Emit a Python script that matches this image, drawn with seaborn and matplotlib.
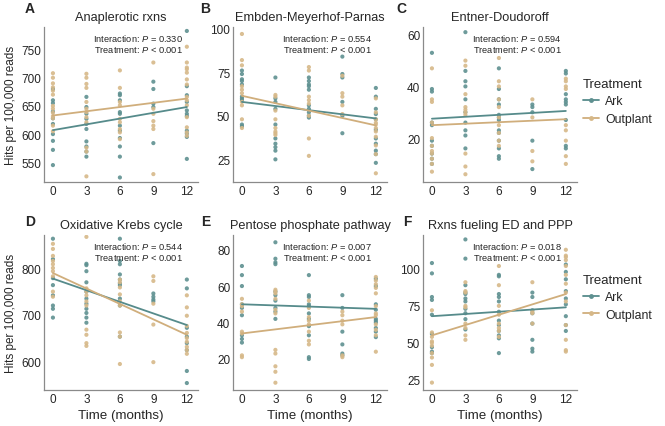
import seaborn as sns
import matplotlib.pyplot as plt
import pandas as pd
from matplotlib.lines import Line2D

# ---- data (hits per 100,000 reads by month) ----
months = [0, 3, 6, 9, 12]

ana_ark = {0: [680, 660, 655, 640, 628, 618, 600, 588, 572, 545],
           3: [666, 648, 636, 627, 618, 609, 587, 578, 569, 560],
           6: [672, 669, 660, 639, 636, 615, 606, 593, 578, 560, 523],
           9: [693, 680, 654, 648, 584],
           12: [783, 685, 669, 657, 642, 636, 632, 606, 601, 595, 556]}
ana_out = {0: [708, 700, 690, 683, 677, 670, 650, 645, 638, 632, 628, 615, 605],
           3: [707, 700, 689, 682, 657, 645, 639, 630, 621, 576, 569, 525],
           6: [713, 682, 657, 651, 627, 621, 609, 603, 591],
           9: [727, 645, 636, 623, 615, 609, 529],
           12: [755, 727, 718, 715, 709, 697, 688, 666, 660, 651, 630, 612, 603, 597]}

emp_ark = {0: [76, 74, 71, 70, 68, 61, 60, 59, 45, 44],
           3: [72, 60, 58, 54, 45, 37, 34, 32, 30, 25],
           6: [72, 70, 68, 67, 65, 56, 54, 52, 50, 49],
           9: [84, 74, 72, 58, 50, 40],
           12: [66, 61, 54, 51, 48, 42, 37, 34, 30, 28, 23]}
emp_out = {0: [97, 82, 79, 67, 65, 63, 58, 56, 48, 43],
           3: [62, 61, 53, 48, 43, 41, 40, 39],
           6: [78, 76, 61, 59, 57, 50, 37, 27],
           9: [73, 63, 61, 56, 51],
           12: [60, 52, 48, 46, 45, 43, 41, 38, 33, 28, 17]}

ent_ark = {0: [53, 39, 38, 26, 25, 19, 17, 14, 12, 10],
           3: [61, 46, 42, 40, 35, 30, 26, 23, 21, 16],
           6: [47, 39, 35, 33, 29, 28, 27, 23, 22, 19, 16, 13, 12],
           9: [33, 32, 30, 19, 8],
           12: [46, 45, 37, 35, 34, 33, 27, 17, 16]}
ent_out = {0: [47, 35, 34, 26, 20, 17, 15, 14, 12, 10, 7],
           3: [50, 48, 37, 32, 31, 30, 29, 14, 9, 6],
           6: [51, 42, 40, 35, 32, 28, 25, 22, 19, 17],
           9: [35, 28, 15, 11],
           12: [43, 42, 40, 39, 25, 23, 19, 13, 10]}

kre_ark = {0: [864, 820, 779, 764, 742, 720, 713, 694],
           3: [810, 807, 794, 770, 750, 735, 724, 713, 704, 694, 683],
           6: [864, 816, 809, 787, 776, 768, 764, 735, 720, 653],
           9: [746, 739, 733, 729],
           12: [776, 757, 672, 653, 639, 624, 579, 553]}
kre_out = {0: [853, 842, 827, 816, 809, 801, 794, 783, 750, 739],
           3: [868, 757, 750, 742, 729, 720, 668, 657, 639, 633],
           6: [776, 770, 759, 744, 729, 720, 662, 653, 594],
           9: [783, 773, 724, 679, 598],
           12: [742, 716, 698, 676, 661, 650, 642, 631, 624, 616]}

pen_ark = {0: [71, 66, 60, 50, 48, 44, 33, 31, 29],
           3: [84, 75, 73, 72, 57, 55, 52, 48, 46, 42],
           6: [66, 55, 54, 50, 49, 45, 42, 38, 33, 21, 20],
           9: [55, 48, 35, 28, 23, 22],
           12: [64, 60, 50, 47, 42, 41, 40, 37, 35, 32]}
pen_out = {0: [53, 50, 49, 46, 35, 34, 22, 21],
           3: [58, 57, 56, 53, 47, 45, 25, 23, 16, 13, 7],
           6: [52, 48, 43, 41, 39, 35, 30, 28],
           9: [46, 44, 41, 39, 22, 21],
           12: [65, 63, 61, 59, 56, 49, 45, 44, 39, 36, 33, 24]}

rxn_ark = {0: [104, 97, 81, 79, 69, 56, 47, 44, 43],
           3: [120, 107, 89, 84, 83, 80, 78, 73, 70, 66, 59],
           6: [96, 95, 83, 81, 78, 71, 65, 62, 58, 55, 53, 43],
           9: [84, 81, 72, 70, 63, 52, 46, 44],
           12: [103, 98, 93, 85, 80, 76, 68, 62, 58]}
rxn_out = {0: [72, 57, 54, 51, 50, 48, 43, 40, 35, 23],
           3: [91, 85, 84, 75, 74, 63, 60, 55, 52],
           6: [102, 89, 75, 69, 63, 60, 58, 54],
           9: [91, 71, 70, 63],
           12: [113, 109, 108, 106, 102, 96, 90, 84, 78, 62, 52, 45, 44]}

# fitted trend values at month 0 and month 12
ark_fit = [(607, 648), (58, 48.5), (27.5, 30.5), (778, 678), (50, 47.5), (68, 74)]
out_fit = [(633, 663), (61.5, 44.5), (25, 27.3), (790, 657), (34, 43), (55, 83)]

titles = ["Anaplerotic rxns", "Embden-Meyerhof-Parnas", "Entner-Doudoroff",
          "Oxidative Krebs cycle", "Pentose phosphate pathway", "Rxns fueling ED and PPP"]
letters = ["A", "B", "C", "D", "E", "F"]
p_interaction = ["0.330", "0.554", "0.594", "0.544", "0.007", "0.018"]
p_treatment = ["< 0.001"] * 6
yticks = [[550, 600, 650, 700, 750], [25, 50, 75, 100], [20, 40, 60],
          [600, 700, 800], [20, 40, 60, 80], [25, 50, 75, 100]]
ylims = [(515, 790), (12, 101), (3, 63), (538, 872), (3, 88), (18, 123)]

ark_data = [ana_ark, emp_ark, ent_ark, kre_ark, pen_ark, rxn_ark]
out_data = [ana_out, emp_out, ent_out, kre_out, pen_out, rxn_out]

palette = {"Ark": "#5e9090", "Outplant": "#d6b888"}
line_pal = {"Ark": "#568b8b", "Outplant": "#d0ae7c"}

sns.set_style("white")
plt.rcParams['font.family'] = ['Liberation Sans', 'DejaVu Sans']
plt.rcParams['mathtext.fontset'] = 'custom'
plt.rcParams['mathtext.it'] = 'Liberation Sans:italic'
plt.rcParams['mathtext.rm'] = 'Liberation Sans'

fig = plt.figure(figsize=(6.65, 4.27), dpi=100)

lefts = [44, 233, 423]
tops = [28, 236]
W, H = 154, 155
letter_x = [25, 200, 396, 25, 201, 403]
letter_y = [9, 9, 9, 222, 222, 222]
legend_y = [0.52, 0.6]

for i in range(6):
    row, col = divmod(i, 3)
    l = lefts[col] / 665
    b = (427 - tops[row] - H) / 427
    ax = fig.add_axes([l, b, W / 665, H / 427])

    rows = []
    for name, d in (("Ark", ark_data[i]), ("Outplant", out_data[i])):
        for t in months:
            for v in d[t]:
                rows.append({"time": t, "value": v, "Treatment": name})
    df = pd.DataFrame(rows)

    fit_rows = []
    for name, fit in (("Ark", ark_fit[i]), ("Outplant", out_fit[i])):
        fit_rows.append({"time": months[0], "value": fit[0], "Treatment": name})
        fit_rows.append({"time": months[-1], "value": fit[1], "Treatment": name})
    fit_df = pd.DataFrame(fit_rows)

    sns.scatterplot(data=df, x="time", y="value", hue="Treatment", palette=palette,
                    s=9, linewidth=0, alpha=0.9, legend=False, ax=ax, zorder=2)
    sns.lineplot(data=fit_df, x="time", y="value", hue="Treatment", palette=line_pal,
                 linewidth=1.3, legend=False, ax=ax, zorder=3)

    ax.set_xlim(-0.8, 13)
    ax.set_ylim(*ylims[i])
    ax.set_xticks(months)
    ax.set_yticks(yticks[i])
    ax.tick_params(axis='both', labelsize=8.5, length=0, pad=2)
    sns.despine(ax=ax)
    for s in ("left", "bottom"):
        ax.spines[s].set_color("#8a8a8a")
        ax.spines[s].set_linewidth(0.9)

    ax.set_title(titles[i], fontsize=9.2, pad=5)
    ax.set_xlabel("Time (months)" if row == 1 else "", fontsize=9.6, labelpad=3)
    ax.set_ylabel("Hits per 100,000 reads" if col == 0 else "", fontsize=8.5, labelpad=3)

    ax.text(0.9, 0.97, "Interaction: $\\mathit{P}$ = " + p_interaction[i],
            transform=ax.transAxes, ha="right", va="top", fontsize=6.7)
    ax.text(0.9, 0.89, "Treatment: $\\mathit{P}$ " + p_treatment[i],
            transform=ax.transAxes, ha="right", va="top", fontsize=6.7)

    fig.text(letter_x[i] / 665, 1 - letter_y[i] / 427, letters[i],
             fontsize=10, fontweight="bold", ha="left", va="center")

    if col == 2:
        handles = [Line2D([0], [0], color=line_pal[k], marker="o", markersize=3.5,
                          markerfacecolor=palette[k], markeredgewidth=0, linewidth=1.3)
                   for k in ("Ark", "Outplant")]
        leg = ax.legend(handles, ["Ark", "Outplant"], title="Treatment",
                        loc="center left", bbox_to_anchor=(1.04, legend_y[row]),
                        frameon=False, fontsize=8.8, title_fontsize=9.5,
                        handlelength=1.3, handletextpad=0.5, labelspacing=0.45,
                        borderaxespad=0, borderpad=0)
        leg._legend_box.align = "left"

fig.savefig("out.png", dpi=100)
